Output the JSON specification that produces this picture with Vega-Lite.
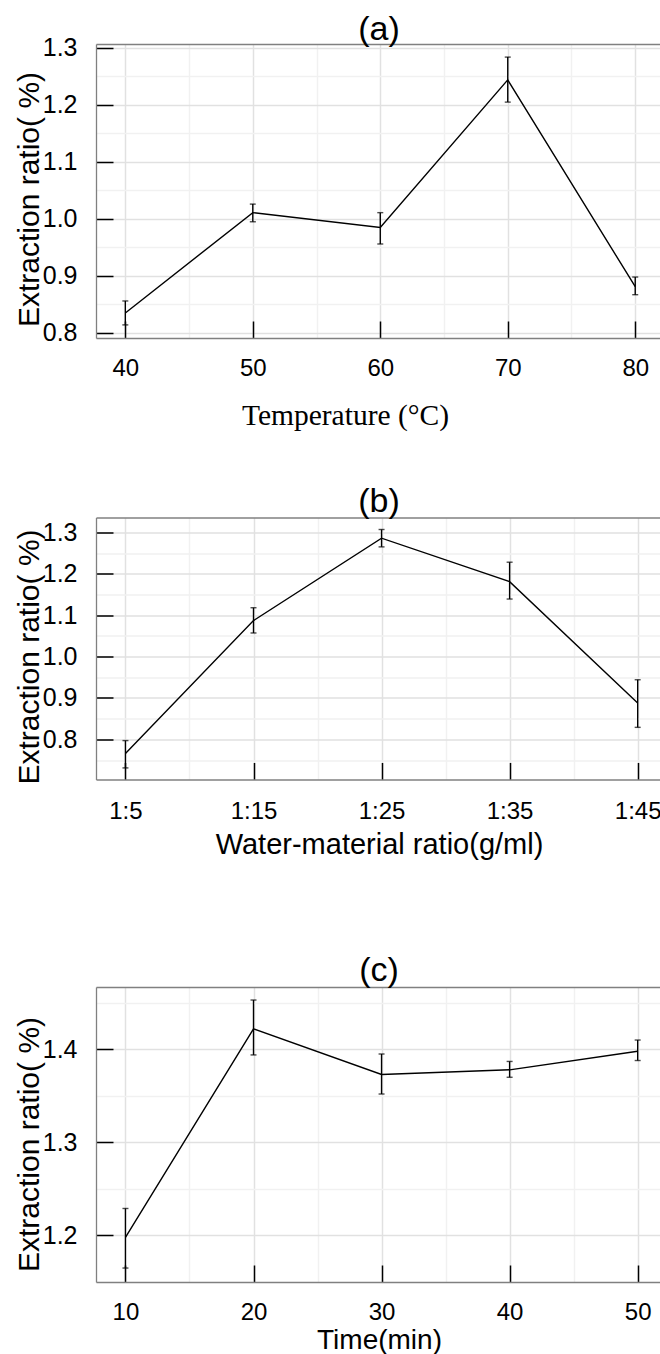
{
  "$schema": "https://vega.github.io/schema/vega-lite/v6.json",
  "padding": {"top": 12, "left": 13, "right": 0, "bottom": 0},
  "datasets": {
    "temperature": [
      {"t": 40, "v": 0.835, "lo": 0.814, "hi": 0.856},
      {"t": 50, "v": 1.011, "lo": 0.995, "hi": 1.026},
      {"t": 60, "v": 0.985, "lo": 0.956, "hi": 1.011},
      {"t": 70, "v": 1.244, "lo": 1.205, "hi": 1.284},
      {"t": 80, "v": 0.881, "lo": 0.867, "hi": 0.898}
    ],
    "ratio": [
      {"r": 5, "v": 0.766, "lo": 0.731, "hi": 0.797},
      {"r": 15, "v": 1.087, "lo": 1.057, "hi": 1.118},
      {"r": 25, "v": 1.286, "lo": 1.265, "hi": 1.307},
      {"r": 35, "v": 1.181, "lo": 1.139, "hi": 1.228},
      {"r": 45, "v": 0.888, "lo": 0.829, "hi": 0.944}
    ],
    "time": [
      {"m": 10, "v": 1.198, "lo": 1.165, "hi": 1.229},
      {"m": 20, "v": 1.422, "lo": 1.394, "hi": 1.453},
      {"m": 30, "v": 1.373, "lo": 1.352, "hi": 1.395},
      {"m": 40, "v": 1.378, "lo": 1.370, "hi": 1.387},
      {"m": 50, "v": 1.398, "lo": 1.388, "hi": 1.410}
    ]
  },
  "spacing": 54.5,
  "vconcat": [
    {
      "title": {"text": "(a)", "frame": "group", "anchor": "middle", "baseline": "alphabetic", "offset": -38, "fontSize": 34, "fontWeight": "normal", "font": "Liberation Sans, Arial, sans-serif", "color": "black"},
      "width": 566,
      "height": 294,
      "data": {"name": "temperature"},
      "layer": [
        {
          "mark": {"type": "line", "color": "black", "strokeWidth": 1.4},
          "encoding": {
            "x": {"field": "t", "type": "quantitative", "scale": {"domain": [37.7, 82.1], "nice": false, "zero": false},
              "axis": {"orient": "bottom", "values": [40, 45, 50, 55, 60, 65, 70, 75, 80],
                "labelExpr": "datum.value % 10 === 0 ? format(datum.value, 'd') : ''",
                "labelFontSize": 24, "labelPadding": 35, "labelFlush": false, "labelOverlap": false,
                "tickSize": -17, "tickWidth": 1.5, "tickColor": "black",
                "tickOpacity": {"condition": {"test": "datum.value % 10 === 0", "value": 1}, "value": 0},
                "gridColor": {"condition": {"test": "datum.value % 10 === 0", "value": "#e1e1e1"}, "value": "#f1f1f1"},
                "title": "Temperature (°C)", "titleFont": "Liberation Serif, Times New Roman, serif", "titleFontSize": 29.5,
                "titleBaseline": "alphabetic", "titleAlign": "center", "titleX": 249, "titleY": 86}},
            "y": {"field": "v", "type": "quantitative", "scale": {"domain": [0.791, 1.307], "nice": false, "zero": false},
              "axis": {"orient": "left", "values": [0.8, 0.85, 0.9, 0.95, 1.0, 1.05, 1.1, 1.15, 1.2, 1.25, 1.3],
                "labelExpr": "round(datum.value * 20) % 2 === 0 ? format(datum.value, '.1f') : ''",
                "labelFontSize": 25, "labelPadding": 36, "labelOverlap": false,
                "tickSize": -17, "tickWidth": 1.5, "tickColor": "black",
                "tickOpacity": {"condition": {"test": "round(datum.value * 20) % 2 === 0", "value": 1}, "value": 0},
                "gridColor": {"condition": {"test": "round(datum.value * 20) % 2 === 0", "value": "#e1e1e1"}, "value": "#f1f1f1"},
                "title": "Extraction ratio( %)", "titleFontSize": 30, "titleBaseline": "alphabetic", "titleAlign": "center",
                "titleX": -58, "titleY": 155}}
          }
        },
        {
          "mark": {"type": "rule", "color": "black", "strokeWidth": 1.4},
          "encoding": {
            "x": {"field": "t", "type": "quantitative", "axis": {"orient": "top", "labels": false, "ticks": false, "grid": false, "title": null, "minExtent": 0}},
            "y": {"field": "lo", "type": "quantitative", "axis": {"orient": "right", "labels": false, "ticks": false, "grid": false, "title": null, "minExtent": 0, "domainColor": "#d8d8d8"}},
            "y2": {"field": "hi"}
          }
        },
        {
          "mark": {"type": "tick", "orient": "horizontal", "color": "black", "size": 6, "thickness": 1.4},
          "encoding": {
            "x": {"field": "t", "type": "quantitative", "axis": null},
            "y": {"field": "lo", "type": "quantitative", "axis": null}
          }
        },
        {
          "mark": {"type": "tick", "orient": "horizontal", "color": "black", "size": 6, "thickness": 1.4},
          "encoding": {
            "x": {"field": "t", "type": "quantitative", "axis": null},
            "y": {"field": "hi", "type": "quantitative", "axis": null}
          }
        }
      ],
      "resolve": {"axis": {"x": "independent", "y": "independent"}}
    },
    {
      "spacing": 94.5,
      "vconcat": [
        {
          "title": {"text": "(b)", "frame": "group", "anchor": "middle", "baseline": "alphabetic", "offset": -28, "fontSize": 34, "fontWeight": "normal", "font": "Liberation Sans, Arial, sans-serif", "color": "black"},
          "width": 566,
          "height": 262,
          "data": {"name": "ratio"},
          "layer": [
            {
              "mark": {"type": "line", "color": "black", "strokeWidth": 1.4},
              "encoding": {
                "x": {"field": "r", "type": "quantitative", "scale": {"domain": [2.7, 46.9], "nice": false, "zero": false},
                  "axis": {"orient": "bottom", "values": [5, 10, 15, 20, 25, 30, 35, 40, 45],
                    "labelExpr": "datum.value % 10 === 5 ? '1:' + datum.value : ''",
                    "labelFontSize": 24, "labelPadding": 37, "labelFlush": false, "labelOverlap": false,
                    "tickSize": -17, "tickWidth": 1.5, "tickColor": "black",
                    "tickOpacity": {"condition": {"test": "datum.value % 10 === 5", "value": 1}, "value": 0},
                    "gridColor": {"condition": {"test": "datum.value % 10 === 5", "value": "#e1e1e1"}, "value": "#f1f1f1"},
                    "title": "Water-material ratio(g/ml)", "titleFontSize": 29,
                    "titleBaseline": "alphabetic", "titleAlign": "center", "titleX": 283, "titleY": 74}},
                "y": {"field": "v", "type": "quantitative", "scale": {"domain": [0.703, 1.336], "nice": false, "zero": false},
                  "axis": {"orient": "left", "values": [0.75, 0.8, 0.85, 0.9, 0.95, 1.0, 1.05, 1.1, 1.15, 1.2, 1.25, 1.3],
                    "labelExpr": "round(datum.value * 20) % 2 === 0 ? format(datum.value, '.1f') : ''",
                    "labelFontSize": 25, "labelPadding": 36, "labelOverlap": false,
                    "tickSize": -17, "tickWidth": 1.5, "tickColor": "black",
                    "tickOpacity": {"condition": {"test": "round(datum.value * 20) % 2 === 0", "value": 1}, "value": 0},
                    "gridColor": {"condition": {"test": "round(datum.value * 20) % 2 === 0", "value": "#e1e1e1"}, "value": "#f1f1f1"},
                    "title": "Extraction ratio( %)", "titleFontSize": 30, "titleBaseline": "alphabetic", "titleAlign": "center",
                    "titleX": -58, "titleY": 139}}
              }
            },
            {
              "mark": {"type": "rule", "color": "black", "strokeWidth": 1.4},
              "encoding": {
                "x": {"field": "r", "type": "quantitative", "axis": {"orient": "top", "labels": false, "ticks": false, "grid": false, "title": null, "minExtent": 0}},
                "y": {"field": "lo", "type": "quantitative", "axis": {"orient": "right", "labels": false, "ticks": false, "grid": false, "title": null, "minExtent": 0, "domainColor": "#d8d8d8"}},
                "y2": {"field": "hi"}
              }
            },
            {
              "mark": {"type": "tick", "orient": "horizontal", "color": "black", "size": 6, "thickness": 1.4},
              "encoding": {
                "x": {"field": "r", "type": "quantitative", "axis": null},
                "y": {"field": "lo", "type": "quantitative", "axis": null}
              }
            },
            {
              "mark": {"type": "tick", "orient": "horizontal", "color": "black", "size": 6, "thickness": 1.4},
              "encoding": {
                "x": {"field": "r", "type": "quantitative", "axis": null},
                "y": {"field": "hi", "type": "quantitative", "axis": null}
              }
            }
          ],
          "resolve": {"axis": {"x": "independent", "y": "independent"}}
        },
        {
          "title": {"text": "(c)", "frame": "group", "anchor": "middle", "baseline": "alphabetic", "offset": -28, "fontSize": 34, "fontWeight": "normal", "font": "Liberation Sans, Arial, sans-serif", "color": "black"},
          "width": 566,
          "height": 295,
          "data": {"name": "time"},
          "layer": [
            {
              "mark": {"type": "line", "color": "black", "strokeWidth": 1.4},
              "encoding": {
                "x": {"field": "m", "type": "quantitative", "scale": {"domain": [7.7, 51.9], "nice": false, "zero": false},
                  "axis": {"orient": "bottom", "values": [10, 15, 20, 25, 30, 35, 40, 45, 50],
                    "labelExpr": "datum.value % 10 === 0 ? format(datum.value, 'd') : ''",
                    "labelFontSize": 24, "labelPadding": 35, "labelFlush": false, "labelOverlap": false,
                    "tickSize": -17, "tickWidth": 1.5, "tickColor": "black",
                    "tickOpacity": {"condition": {"test": "datum.value % 10 === 0", "value": 1}, "value": 0},
                    "gridColor": {"condition": {"test": "datum.value % 10 === 0", "value": "#e1e1e1"}, "value": "#f1f1f1"},
                    "title": "Time(min)", "titleFontSize": 28,
                    "titleBaseline": "alphabetic", "titleAlign": "center", "titleX": 283, "titleY": 66}},
                "y": {"field": "v", "type": "quantitative", "scale": {"domain": [1.15, 1.467], "nice": false, "zero": false},
                  "axis": {"orient": "left", "values": [1.2, 1.25, 1.3, 1.35, 1.4, 1.45],
                    "labelExpr": "round(datum.value * 20) % 2 === 0 ? format(datum.value, '.1f') : ''",
                    "labelFontSize": 25, "labelPadding": 36, "labelOverlap": false,
                    "tickSize": -17, "tickWidth": 1.5, "tickColor": "black",
                    "tickOpacity": {"condition": {"test": "round(datum.value * 20) % 2 === 0", "value": 1}, "value": 0},
                    "gridColor": {"condition": {"test": "round(datum.value * 20) % 2 === 0", "value": "#e1e1e1"}, "value": "#f1f1f1"},
                    "title": "Extraction ratio( %)", "titleFontSize": 30, "titleBaseline": "alphabetic", "titleAlign": "center",
                    "titleX": -58, "titleY": 157}}
              }
            },
            {
              "mark": {"type": "rule", "color": "black", "strokeWidth": 1.4},
              "encoding": {
                "x": {"field": "m", "type": "quantitative", "axis": {"orient": "top", "labels": false, "ticks": false, "grid": false, "title": null, "minExtent": 0}},
                "y": {"field": "lo", "type": "quantitative", "axis": {"orient": "right", "labels": false, "ticks": false, "grid": false, "title": null, "minExtent": 0, "domainColor": "#d8d8d8"}},
                "y2": {"field": "hi"}
              }
            },
            {
              "mark": {"type": "tick", "orient": "horizontal", "color": "black", "size": 6, "thickness": 1.4},
              "encoding": {
                "x": {"field": "m", "type": "quantitative", "axis": null},
                "y": {"field": "lo", "type": "quantitative", "axis": null}
              }
            },
            {
              "mark": {"type": "tick", "orient": "horizontal", "color": "black", "size": 6, "thickness": 1.4},
              "encoding": {
                "x": {"field": "m", "type": "quantitative", "axis": null},
                "y": {"field": "hi", "type": "quantitative", "axis": null}
              }
            }
          ],
          "resolve": {"axis": {"x": "independent", "y": "independent"}}
        }
      ]
    }
  ],
  "config": {
    "font": "Liberation Sans, Arial, sans-serif",
    "view": {"stroke": null},
    "axis": {
      "domain": true,
      "domainColor": "#808080",
      "domainWidth": 1.3,
      "labelFont": "Liberation Sans, Arial, sans-serif",
      "labelColor": "black",
      "titleFont": "Liberation Sans, Arial, sans-serif",
      "titleColor": "black",
      "titleFontWeight": "normal",
      "gridWidth": 1.5
    }
  }
}
